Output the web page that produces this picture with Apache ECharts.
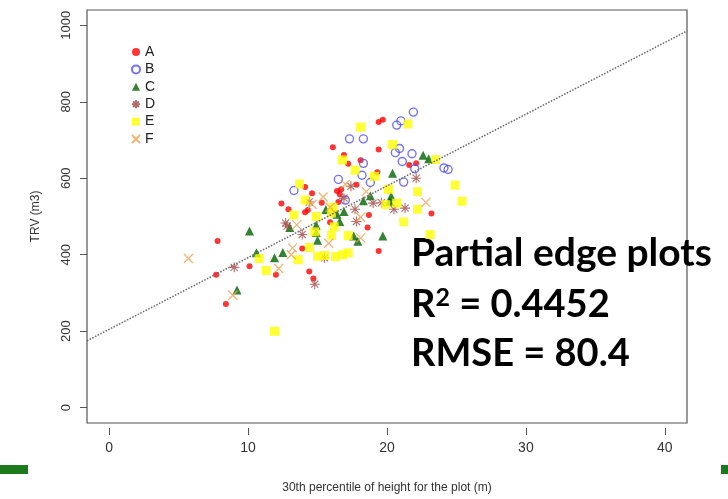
<!DOCTYPE html>
<html><head><meta charset="utf-8">
<script src="https://cdn.jsdelivr.net/npm/echarts@6/dist/echarts.min.js"></script>
<style>html,body{margin:0;padding:0;background:#fff}#c{width:728px;height:499px}</style>
</head><body><div id="c"></div>
<script>
const categories = ['A','B','C','D','E','F'];
const xTicks = [0,10,20,30,40];
const yTicks = [0,200,400,600,800,1000];
const xTitle = '30th percentile of height for the plot (m)';
const yTitle = 'TRV (m3)';
const seriesA = [[19.4,747],[19.7,753],[16.1,681],[19.4,675],[16.9,661],[17.2,638],[18.1,647],[21.6,635],[22.1,639],[19.3,616],[14.1,577],[14.6,561],[16.4,567],[16.6,558],[16.7,571],[17.8,583],[12.4,534],[15.3,536],[16.5,538],[12.9,519],[14.1,511],[14.3,517],[18.7,504],[23.2,508],[18.6,471],[15.9,485],[19.4,410],[13.9,416],[7.8,436],[10.1,370],[12.0,348],[7.7,348],[8.4,271],[14.4,356],[14.7,338]];
const seriesB = [[21.9,773],[20.7,739],[21.0,750],[17.3,703],[18.3,703],[20.6,667],[20.9,678],[21.8,664],[18.3,639],[21.1,644],[24.1,627],[24.4,623],[22.0,625],[18.2,608],[18.8,589],[21.2,590],[16.5,597],[13.3,568],[17.0,543]];
const seriesC = [[22.6,660],[23.0,651],[20.4,613],[20.3,553],[20.2,540],[18.8,554],[18.3,541],[16.9,513],[16.4,506],[16.6,487],[15.6,518],[14.9,477],[14.9,458],[15.0,438],[13.0,471],[12.5,406],[11.9,392],[10.6,405],[10.1,462],[9.2,308],[17.6,449],[17.9,435],[19.7,449]];
const seriesD = [[22.1,600],[17.4,579],[16.9,548],[14.4,538],[19.0,535],[19.6,536],[20.5,519],[21.3,522],[17.7,519],[16.1,511],[17.8,487],[12.7,483],[12.8,475],[13.9,453],[15.5,392],[9.0,367],[14.8,323]];
const seriesE = [[18.1,734],[21.5,742],[20.4,688],[16.8,648],[17.7,621],[19.1,605],[23.5,649],[13.7,585],[14.1,543],[20.1,571],[22.2,565],[24.9,582],[25.4,540],[19.9,531],[20.7,535],[22.2,519],[21.2,486],[23.1,453],[16.1,524],[16.0,509],[13.3,504],[16.2,473],[14.8,460],[16.0,451],[17.2,450],[14.4,419],[15.0,396],[16.3,395],[16.8,400],[17.2,405],[10.8,390],[11.3,359],[13.6,387],[11.9,200],[15.5,398],[14.9,500]];
const seriesF = [[5.7,390],[8.9,294],[12.2,364],[13.2,418],[13.1,400],[15.8,430],[18.1,444],[17.0,584],[18.5,565],[15.4,551],[14.6,532],[22.8,537],[18.1,498],[15.9,524],[13.5,478]];
const fitLine = [[-1.6,175],[41.6,985]];
const annotation = ['Partial edge plots', '0.4452', '80.4'];

const axisFont = "'Liberation Sans', Arial, sans-serif";
const bigFont = 'Lato, sans-serif';
const starPath = 'path://M5 0V10M0 5H10M1.46 1.46L8.54 8.54M1.46 8.54L8.54 1.46';
const crossPath = 'path://M0 0L10 10M0 10L10 0';
const styles = {
  A: {symbol:'circle', symbolSize:6, itemStyle:{color:'#ff0000'}},
  B: {symbol:'circle', symbolSize:8, itemStyle:{color:'rgba(0,0,0,0)', borderColor:'#5050f0', borderWidth:1.4}},
  C: {symbol:'triangle', symbolSize:9, itemStyle:{color:'#006400'}},
  D: {symbol:starPath, symbolSize:10, itemStyle:{color:'rgba(0,0,0,0)', borderColor:'#a04848', borderWidth:1.1}},
  E: {symbol:'rect', symbolSize:9, itemStyle:{color:'#ffff00'}},
  F: {symbol:crossPath, symbolSize:9, itemStyle:{color:'rgba(0,0,0,0)', borderColor:'#f0a050', borderWidth:1.3}}
};
const dataMap = {A:seriesA, B:seriesB, C:seriesC, D:seriesD, E:seriesE, F:seriesF};

const chart = echarts.init(document.getElementById('c'), null, {renderer:'canvas'});
const series = categories.map(function(c){
  return Object.assign({type:'scatter', name:c, data:dataMap[c], z:2, emphasis:{disabled:true}}, styles[c]);
});
series.push({type:'line', name:'fit', data:fitLine, symbol:'none', z:5, silent:true,
  lineStyle:{color:'#666', width:1.5, type:[1.5,1.5]}});

chart.setOption({
  animation:false,
  grid:{left:87, top:10, width:600, height:415, show:true, borderColor:'#555', borderWidth:1.2, backgroundColor:'#fff', containLabel:false},
  legend:{data:categories, orient:'vertical', left:126, top:40, itemWidth:8, itemHeight:8, itemGap:3.4,
    textStyle:{fontFamily:axisFont, fontSize:14, color:'#222'}},
  xAxis:{type:'value', min:-1.6, max:41.6, position:'bottom', offset:5,
    axisLine:{show:false, onZero:false}, splitLine:{show:false},
    axisTick:{show:true, length:7, customValues:xTicks, lineStyle:{color:'#555'}},
    axisLabel:{customValues:xTicks, margin:13, fontFamily:axisFont, fontSize:14, color:'#333', formatter:function(v){return String(v);}},
    name:xTitle, nameLocation:'middle', nameGap:54, nameTextStyle:{fontFamily:axisFont, fontSize:12, color:'#333'}},
  yAxis:{type:'value', min:-40, max:1040,
    axisLine:{show:false, onZero:false}, splitLine:{show:false},
    axisTick:{show:true, length:7, customValues:yTicks, lineStyle:{color:'#555'}},
    axisLabel:{customValues:yTicks, rotate:90, margin:14, fontFamily:axisFont, fontSize:13, color:'#333', formatter:function(v){return String(v);}},
    name:yTitle, nameLocation:'middle', nameGap:45, nameRotate:90, nameTextStyle:{fontFamily:axisFont, fontSize:12, color:'#333'}},
  series:series,
  graphic:[
    {type:'rect', left:0, top:465, shape:{width:28, height:9}, style:{fill:'#1b7a1b'}},
    {type:'rect', left:721, top:465, shape:{width:7, height:9}, style:{fill:'#1b7a1b'}},
    {type:'text', left:411, top:234, style:{text:annotation[0], fontFamily:bigFont, fontWeight:'bold', fontSize:39, fill:'#000'}},
    {type:'text', left:411, top:285, style:{text:'{r|R}{s|2}{r| = ' + annotation[1] + '}', fontFamily:bigFont, fontWeight:'bold', fontSize:38, fill:'#000',
      rich:{r:{fontFamily:bigFont, fontWeight:'bold', fontSize:38, fill:'#000'}, s:{fontFamily:bigFont, fontWeight:'bold', fontSize:25, fill:'#000', padding:[0,0,15,0]}}}},
    {type:'text', left:411, top:335, style:{text:'RMSE = ' + annotation[2], fontFamily:bigFont, fontWeight:'bold', fontSize:38, fill:'#000'}}
  ]
});
</script></body></html>
